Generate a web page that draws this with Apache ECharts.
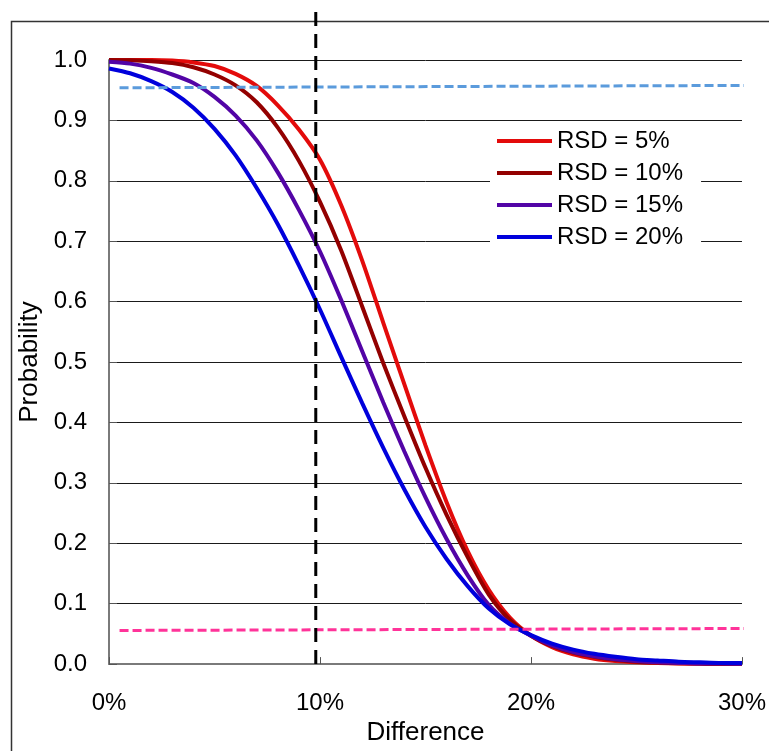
<!DOCTYPE html>
<html>
<head>
<meta charset="utf-8">
<script src="https://cdn.jsdelivr.net/npm/echarts@6/dist/echarts.min.js"></script>
<style>
html,body{margin:0;padding:0;background:#fff;}
#chart{width:769px;height:751px;}
</style>
</head>
<body>
<div id="chart"></div>
<script>
// Differences (%) at which the curves are sampled
const differences = [0,1,2,3,4,5,6,7,8,9,10,11,12,13,14,15,16,17,18,19,20,21,22,23,24,25,26,27,28,29,30];
const seriesNames = ['RSD = 5%', 'RSD = 10%', 'RSD = 15%', 'RSD = 20%'];
const rsd5  = [1.0,1.0,1.0,0.999,0.996,0.99,0.977,0.957,0.925,0.885,0.835,0.76,0.668,0.565,0.463,0.362,0.268,0.187,0.123,0.077,0.047,0.028,0.016,0.009,0.005,0.003,0.002,0.001,0.0005,0,0];
const rsd10 = [1.0,0.9995,0.998,0.995,0.988,0.976,0.958,0.93,0.888,0.833,0.765,0.685,0.592,0.498,0.41,0.325,0.247,0.177,0.115,0.073,0.047,0.03,0.019,0.012,0.007,0.004,0.0025,0.0015,0.001,0.0005,0];
const rsd15 = [0.997,0.994,0.987,0.976,0.962,0.939,0.908,0.867,0.814,0.752,0.683,0.603,0.518,0.433,0.352,0.276,0.207,0.147,0.098,0.067,0.047,0.031,0.02,0.013,0.008,0.005,0.003,0.002,0.001,0.001,0.0005];
const rsd20 = [0.986,0.978,0.965,0.947,0.921,0.886,0.842,0.788,0.728,0.66,0.587,0.509,0.432,0.358,0.289,0.227,0.174,0.129,0.092,0.066,0.048,0.034,0.024,0.017,0.012,0.008,0.006,0.004,0.003,0.002,0.002];
// Reference lines
const upperRef = [[0.5,0.954],[30.6,0.958]];
const lowerRef = [[0.5,0.0557],[30.6,0.059]];
const diffRef  = [[9.8,0],[9.8,1.086]];
const xTicks = {min:0, max:30, interval:10};
const yTicks = {min:0, max:1, interval:0.1};

const colors = ['#e30b0b','#930000','#5204a6','#0000dc'];
const curves = [rsd5, rsd10, rsd15, rsd20];
const FONT = 'Liberation Sans, Arial, sans-serif';

const chart = echarts.init(document.getElementById('chart'));
const series = curves.map((vals, i) => ({
  name: seriesNames[i],
  type: 'line',
  data: differences.map((d, k) => [d, vals[k]]),
  smooth: 0.25,
  showSymbol: false,
  lineStyle: {color: colors[i], width: 4},
  itemStyle: {color: colors[i]},
  z: 3 + i
}));
function refLine(data, color, width, dash) {
  return {
    type: 'line', data: data, showSymbol: false, silent: true, clip: false,
    lineStyle: {color: color, width: width, type: dash}, z: 8
  };
}
series.push(refLine(upperRef, '#5b9bdc', 3, [9, 4]));
series.push(refLine(lowerRef, '#ff3399', 3, [9, 4]));
series.push(refLine(diffRef, '#000000', 3, [14, 8]));

chart.setOption({
  animation: false,
  backgroundColor: '#fff',
  graphic: [{
    type: 'rect', left: 9, top: 19, shape: {width: 800, height: 800},
    style: {fill: 'none', stroke: '#333', lineWidth: 1.5}, z: 0, silent: true
  }],
  grid: {left: 109, right: 27, top: 60, bottom: 85.3, containLabel: false},
  legend: {
    data: seriesNames,
    orient: 'vertical',
    left: 490, top: 123,
    padding: [6, 18, 6, 7],
    backgroundColor: '#ffffff',
    icon: 'rect',
    itemWidth: 55, itemHeight: 4, itemGap: 8,
    textStyle: {fontFamily: FONT, fontSize: 24, color: '#000', lineHeight: 24},
    z: 20
  },
  xAxis: {
    type: 'value', min: xTicks.min, max: xTicks.max, interval: xTicks.interval,
    name: 'Difference', nameLocation: 'middle', nameGap: 53,
    nameTextStyle: {fontFamily: FONT, fontSize: 26, color: '#000'},
    axisLine: {lineStyle: {color: '#7a7a7a', width: 2}},
    axisTick: {inside: true, length: 7, lineStyle: {color: '#555', width: 1}},
    axisLabel: {formatter: '{value}%', margin: 27, fontFamily: FONT, fontSize: 24, color: '#000'},
    splitLine: {show: false}
  },
  yAxis: {
    type: 'value', min: yTicks.min, max: yTicks.max, interval: yTicks.interval,
    name: 'Probability', nameLocation: 'middle', nameGap: 63,
    nameTextStyle: {fontFamily: FONT, fontSize: 26, color: '#000'},
    axisLine: {show: true, lineStyle: {color: '#7a7a7a', width: 2}},
    axisTick: {show: true, inside: true, length: 8, lineStyle: {color: '#555', width: 1}},
    axisLabel: {formatter: v => v.toFixed(1), margin: 22, fontFamily: FONT, fontSize: 24, color: '#000'},
    splitLine: {show: true, lineStyle: {color: '#1a1a1a', width: 1}}
  },
  series: series
});
</script>
</body>
</html>
